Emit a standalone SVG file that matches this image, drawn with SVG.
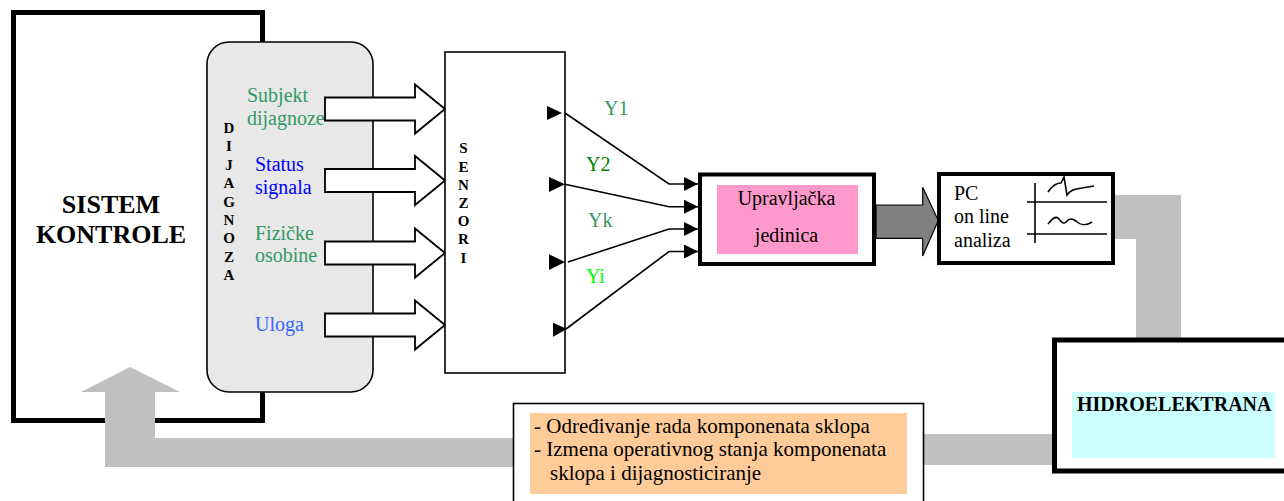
<svg xmlns="http://www.w3.org/2000/svg" width="1284" height="501" viewBox="0 0 1284 501">
<defs>
<style>
text{font-family:"Liberation Serif","Times New Roman",Times,serif;font-size:20px;fill:#000}
.b{font-weight:bold}
.v{font-weight:bold;font-size:15px;text-anchor:middle}
.g{fill:#339966}
.thick{fill:#fff;stroke:#000;stroke-width:5}
.med{fill:#fff;stroke:#000;stroke-width:4}
.thin{fill:#fff;stroke:#000;stroke-width:1.6}
.grey{fill:#c0c0c0;stroke:none}
.ln{fill:none;stroke:#000;stroke-width:1.6}
.hollow{fill:#fff;stroke:#000;stroke-width:1.8;stroke-linejoin:miter}
.tri{fill:#000}
</style>
<marker id="ah" viewBox="0 0 14 14" refX="14" refY="7" markerWidth="14" markerHeight="14" markerUnits="userSpaceOnUse" orient="auto">
<path d="M0,0 L14,7 L0,14 Z" fill="#000"/>
</marker>
</defs>

<g id="sistem-kontrole">
<rect class="thick" x="13.5" y="12.5" width="249" height="408"/>
<text class="b" x="111" y="213" text-anchor="middle" style="font-size:26px">SISTEM</text>
<text class="b" x="111" y="243" text-anchor="middle" style="font-size:26px">KONTROLE</text>
</g>

<g id="connectors">
<path class="grey" d="M1115,195 H1181 V338 H1136 V239 H1115 Z"/>
<path class="grey" d="M924,434 H1052 V465 H924 Z"/>
<path class="grey" d="M513,438 V467 H105 V392 H81 L130,367 L180,392 H155 V438 Z"/>
</g>

<g id="dijagnoza">
<rect x="207" y="42" width="166" height="350" rx="22" ry="22" fill="#e8e8e8" stroke="#000" stroke-width="1.6"/>
<text class="v" x="229" y="133">D</text>
<text class="v" x="229" y="151.4">I</text>
<text class="v" x="229" y="169.8">J</text>
<text class="v" x="229" y="188.2">A</text>
<text class="v" x="229" y="206.6">G</text>
<text class="v" x="229" y="225">N</text>
<text class="v" x="229" y="243.4">O</text>
<text class="v" x="229" y="261.8">Z</text>
<text class="v" x="229" y="280.2">A</text>
<text class="g" x="247" y="102">Subjekt</text>
<text class="g" x="247" y="125">dijagnoze</text>
<text x="255" y="171" style="fill:#0000ff">Status</text>
<text x="255" y="194" style="fill:#0000ff">signala</text>
<text class="g" x="255" y="240">Fizičke</text>
<text class="g" x="255" y="262">osobine</text>
<text x="255" y="331" style="fill:#3366ff">Uloga</text>
</g>

<g id="input-arrows">
<path class="hollow" d="M325,97.5 H415 V84.5 L445,109 L415,133.5 V120.5 H325 Z"/>
<path class="hollow" d="M325,169 H415 V156 L445,180.5 L415,205 V192 H325 Z"/>
<path class="hollow" d="M325,241.5 H415 V228.5 L445,253 L415,277.5 V264.5 H325 Z"/>
<path class="hollow" d="M325,313.5 H415 V300.5 L445,325 L415,349.5 V336.5 H325 Z"/>
</g>

<g id="senzori">
<rect class="thin" x="445" y="52" width="120" height="321"/>
<text class="v" x="463.5" y="153.3">S</text>
<text class="v" x="463.5" y="171.5">E</text>
<text class="v" x="463.5" y="189.7">N</text>
<text class="v" x="463.5" y="207.9">Z</text>
<text class="v" x="463.5" y="226.1">O</text>
<text class="v" x="463.5" y="244.3">R</text>
<text class="v" x="463.5" y="262.5">I</text>
<path class="tri" d="M547,106 L562,113 L547,120 Z"/>
<path class="tri" d="M549,177 L565,184.3 L549,192 Z"/>
<path class="tri" d="M549,254.3 L565,262 L549,270 Z"/>
<path class="tri" d="M553,322.7 L567,329 L553,336.7 Z"/>
</g>

<g id="signal-lines">
<path class="ln" d="M565,113 L669,184 H698" marker-end="url(#ah)"/>
<path class="ln" d="M565,184.3 L669,206.7 H698" marker-end="url(#ah)"/>
<path class="ln" d="M568,262 L669,229 H698" marker-end="url(#ah)"/>
<path class="ln" d="M566,329 L669,251.5 H698" marker-end="url(#ah)"/>
<text class="g" x="604" y="115">Y1</text>
<text x="586" y="171" style="fill:#008000">Y2</text>
<text class="g" x="588" y="227">Yk</text>
<text x="586" y="283" style="fill:#00ff00">Yi</text>
</g>

<g id="upravljacka-jedinica">
<rect class="med" x="700" y="174.5" width="174" height="89.5"/>
<rect x="717" y="185" width="141" height="69" fill="#ff99cc"/>
<text x="786.5" y="205" text-anchor="middle">Upravljačka</text>
<text x="786.5" y="242" text-anchor="middle">jedinica</text>
</g>

<g id="data-arrow">
<path d="M876,205 H922.7 V187.3 L938.3,220.5 L922.7,256 V238.3 H876 Z" fill="#808080" stroke="#000" stroke-width="1.2"/>
</g>

<g id="pc-analiza">
<rect class="med" x="939" y="174" width="174" height="89"/>
<text x="954" y="200">PC</text>
<text x="954" y="223">on line</text>
<text x="954" y="247">analiza</text>
<path class="ln" d="M1035,183 V243 M1027,202 H1107 M1027,234 H1107"/>
<path class="ln" d="M1048,192 C1052,186 1056,183 1061,183 L1064,177 L1067,195 C1070,190 1075,189 1082,188 L1094,186"/>
<path class="ln" d="M1048,224 C1052,219 1055,216 1058,218 C1061,221 1063,225 1066,222 C1069,218 1072,218 1076,221 C1080,225 1086,226 1092,222"/>
</g>

<g id="hidroelektrana">
<rect class="thick" x="1054.5" y="340" width="240" height="131"/>
<rect x="1072" y="392" width="203" height="66" fill="#ccffff"/>
<text class="b" x="1077" y="411">HIDROELEKTRANA</text>
</g>

<g id="aktivnosti">
<rect class="thin" x="513.5" y="403.5" width="410" height="110"/>
<rect x="530" y="413" width="377" height="81" fill="#ffcc99"/>
<text x="534" y="433" style="font-size:21px">- Određivanje rada komponenata sklopa</text>
<text x="534" y="456" style="font-size:21px">- Izmena operativnog stanja komponenata</text>
<text x="550" y="480" style="font-size:21px">sklopa i dijagnosticiranje</text>
</g>
</svg>
